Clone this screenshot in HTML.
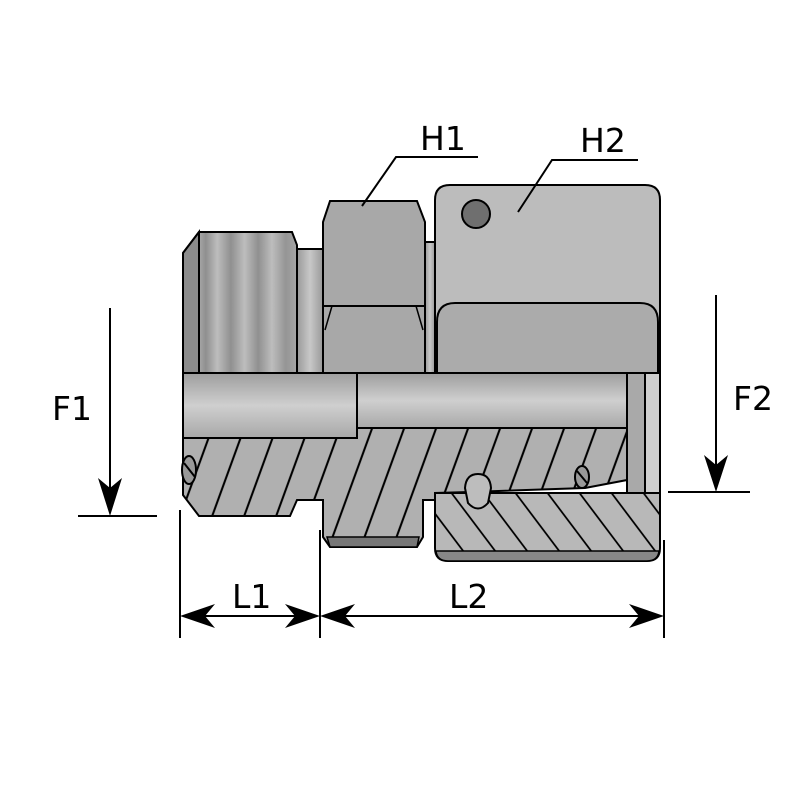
<!DOCTYPE html>
<html><head><meta charset="utf-8"><style>
body{margin:0;background:#fff}
svg{display:block}
text{font-family:"DejaVu Sans","Liberation Sans",sans-serif;font-size:33px;fill:#000}
</style></head><body>
<svg width="800" height="800" viewBox="0 0 800 800" xmlns="http://www.w3.org/2000/svg">
<defs>
<linearGradient id="thr" x1="0" x2="1" y1="0" y2="0">
<stop offset="0" stop-color="#8a8a8a"/><stop offset="0.1" stop-color="#b8b8b8"/><stop offset="0.2" stop-color="#8f8f8f"/><stop offset="0.3" stop-color="#bdbdbd"/><stop offset="0.42" stop-color="#909090"/><stop offset="0.54" stop-color="#bdbdbd"/><stop offset="0.66" stop-color="#909090"/><stop offset="0.78" stop-color="#bdbdbd"/><stop offset="0.9" stop-color="#959595"/><stop offset="1" stop-color="#a5a5a5"/>
</linearGradient>
<linearGradient id="bore" x1="0" x2="0" y1="0" y2="1">
<stop offset="0" stop-color="#9e9e9e"/><stop offset="0.5" stop-color="#cfcfcf"/><stop offset="1" stop-color="#a8a8a8"/>
</linearGradient>
<linearGradient id="neck" x1="0" x2="1" y1="0" y2="0">
<stop offset="0" stop-color="#999"/><stop offset="0.5" stop-color="#c8c8c8"/><stop offset="1" stop-color="#999"/>
</linearGradient>
<pattern id="h1" patternUnits="userSpaceOnUse" width="32" height="800" patternTransform="skewX(-20)">
<rect width="32" height="800" fill="#b0b0b0"/><line x1="16" y1="0" x2="16" y2="800" stroke="#000" stroke-width="2.2"/>
</pattern>
<pattern id="h2" patternUnits="userSpaceOnUse" width="32" height="800" patternTransform="skewX(37)">
<rect width="32" height="800" fill="#b8b8b8"/><line x1="16" y1="0" x2="16" y2="800" stroke="#000" stroke-width="2.2"/>
</pattern>
</defs>
<g stroke="#000" stroke-width="2">
<path d="M183,253 L199,232 L292,232 L297,245 L297,373 L183,373 Z" fill="url(#thr)"/>
<path d="M183,253 L199,232 L199,373 L183,373 Z" fill="#8c8c8c"/>
<rect x="297" y="249" width="26" height="124" fill="url(#neck)"/>
<!-- hex H1 -->
<path d="M330,201 L417,201 L425,222 L425,373 L323,373 L323,222 Z" fill="#a8a8a8"/>
<line x1="323" y1="306" x2="425" y2="306"/>
<path d="M332,306 L325,330 M416,306 L423,330" fill="none" stroke-width="1.5"/>
<!-- neck 2 -->
<rect x="425" y="242" width="10" height="131" fill="url(#neck)"/>
<!-- nut H2 -->
<path d="M450,185 L645,185 Q660,185 660,200 L660,373 L435,373 L435,200 Q435,185 450,185 Z" fill="#bcbcbc"/>
<path d="M437,373 L437,322 Q437,303 455,303 L640,303 Q658,303 658,322 L658,373 Z" fill="#ababab"/>
<circle cx="476" cy="214" r="14" fill="#6f6f6f"/>
<!-- bores -->
<rect x="183" y="373" width="174" height="65" fill="url(#bore)"/>
<rect x="357" y="373" width="273" height="55" fill="url(#bore)"/>
<rect x="627" y="373" width="18" height="120" fill="#a9a9a9"/>
<rect x="645" y="373" width="15" height="120" fill="#cfcfcf"/>
<!-- body hatched -->
<path d="M183,438 L357,438 L357,428 L627,428 L627,480 L585,488 L470,492 L435,493 L435,500 L423,500 L423,537 L417,547 L330,547 L323,537 L323,500 L297,500 L290,516 L199,516 L183,495 Z" fill="url(#h1)"/>
<path d="M327,537 L419,537 L417,547 L330,547 Z" fill="#777" stroke-width="1.5"/>
<!-- nut lower -->
<path d="M435,493 L660,493 L660,548 Q660,561 647,561 L448,561 Q435,561 435,548 Z" fill="url(#h2)"/>
<path d="M436,551 L659,551 Q658,561 647,561 L448,561 Q437,561 436,551 Z" fill="#888" stroke-width="1.5"/>
<!-- seals -->
<ellipse cx="189" cy="470" rx="7" ry="14" fill="#999"/>
<line x1="184" y1="463" x2="195" y2="477"/>
<ellipse cx="582" cy="477" rx="7" ry="11" fill="#999"/>
<line x1="577" y1="471" x2="587" y2="483"/>
<path d="M465,488 Q466,474 478,474 Q490,474 491,488 L488,503 Q478,514 468,503 Z" fill="#bdbdbd"/>
<line x1="183" y1="373" x2="660" y2="373"/>
</g>
<g stroke="#000" stroke-width="2" fill="none">
<polyline points="362,206 396,157 478,157"/>
<polyline points="518,212 552,160 638,160"/>
<line x1="110" y1="308" x2="110" y2="495"/>
<line x1="78" y1="516" x2="157" y2="516"/>
<line x1="716" y1="295" x2="716" y2="472"/>
<line x1="668" y1="492" x2="750" y2="492"/>
<line x1="180" y1="510" x2="180" y2="638"/>
<line x1="320" y1="530" x2="320" y2="638"/>
<line x1="664" y1="540" x2="664" y2="638"/>
<line x1="195" y1="616" x2="305" y2="616"/>
<line x1="335" y1="616" x2="650" y2="616"/>
</g>
<g fill="#000">
<path d="M110,516 L98,478 L110,488 L122,478 Z"/>
<path d="M716,492 L704,455 L716,465 L728,455 Z"/>
<path d="M180,616 L215,604 L205,616 L215,628 Z"/>
<path d="M320,616 L285,604 L295,616 L285,628 Z"/>
<path d="M320,616 L355,604 L345,616 L355,628 Z"/>
<path d="M664,616 L629,604 L639,616 L629,628 Z"/>
</g>
<text x="52" y="420">F1</text>
<text x="733" y="410">F2</text>
<text x="232" y="608">L1</text>
<text x="449" y="608">L2</text>
<text x="420" y="150">H1</text>
<text x="580" y="152">H2</text>
</svg>
</body></html>
